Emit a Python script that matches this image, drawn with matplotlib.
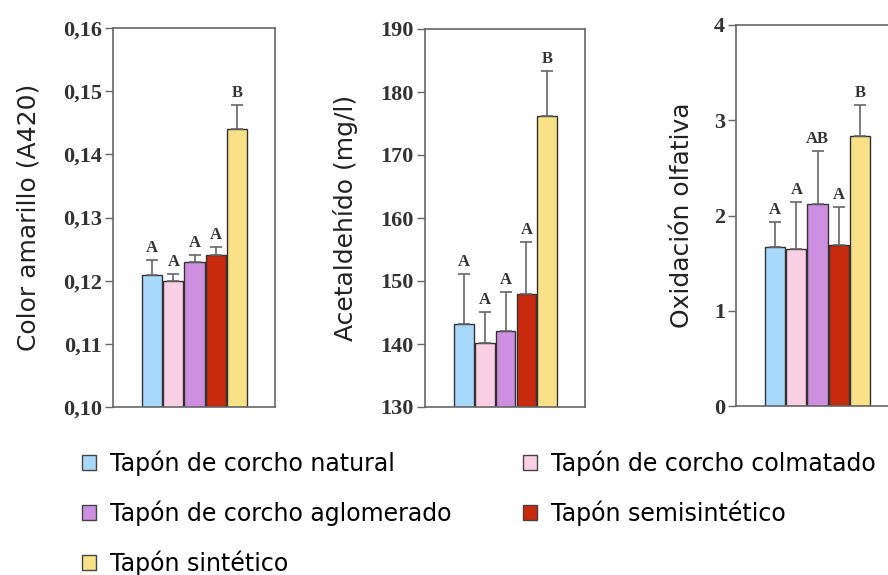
import matplotlib
matplotlib.use("Agg")
import matplotlib.pyplot as plt
from matplotlib.patches import Patch
import numpy as np

tapones = ["Tapón de corcho natural", "Tapón de corcho colmatado",
           "Tapón de corcho aglomerado", "Tapón semisintético", "Tapón sintético"]
colores = ["#a9d8fd", "#fbd0e4", "#cd90e0", "#c72a0c", "#f8e187"]

color_val = [0.1209, 0.1200, 0.1229, 0.1240, 0.1440]
color_err = [0.0024, 0.0011, 0.0012, 0.0014, 0.0038]
color_let = ["A", "A", "A", "A", "B"]

acet_val = [143.2, 140.2, 142.1, 147.9, 176.2]
acet_err = [7.9, 4.9, 6.2, 8.3, 7.1]
acet_let = ["A", "A", "A", "A", "B"]

oxid_val = [1.67, 1.65, 2.12, 1.69, 2.83]
oxid_err = [0.26, 0.49, 0.56, 0.40, 0.33]
oxid_let = ["A", "A", "AB", "A", "B"]

paneles = [
    dict(val=color_val, err=color_err, let=color_let, ylim=(0.10, 0.16),
         ticks=[0.10, 0.11, 0.12, 0.13, 0.14, 0.15, 0.16],
         tlabels=["0,10", "0,11", "0,12", "0,13", "0,14", "0,15", "0,16"],
         ylabel="Color amarillo (A420)", pos=[113, 28, 162, 379], lpad=16),
    dict(val=acet_val, err=acet_err, let=acet_let, ylim=(130, 190),
         ticks=[130, 140, 150, 160, 170, 180, 190],
         tlabels=["130", "140", "150", "160", "170", "180", "190"],
         ylabel="Acetaldehído (mg/l)", pos=[425, 29, 160, 378], lpad=16),
    dict(val=oxid_val, err=oxid_err, let=oxid_let, ylim=(0, 4),
         ticks=[0, 1, 2, 3, 4],
         tlabels=["0", "1", "2", "3", "4"],
         ylabel="Oxidación olfativa", pos=[736, 25, 162, 381], lpad=14),
]

W, H = 888, 575
fig = plt.figure(figsize=(W / 100, H / 100), dpi=100)
x = np.arange(5)
gris = "#666666"

for p in paneles:
    l, t, w, h = p["pos"]
    ax = fig.add_axes([l / W, 1 - (t + h) / H, w / W, h / H])
    ax.bar(x, p["val"], width=0.95, color=colores, edgecolor="#333333", linewidth=1)
    ax.errorbar(x, p["val"], yerr=[np.zeros(5), p["err"]], fmt="none",
                ecolor=gris, elinewidth=1.2, capsize=4, capthick=1.2)
    rng = p["ylim"][1] - p["ylim"][0]
    for xi, v, e, s in zip(x, p["val"], p["err"], p["let"]):
        ax.text(xi, v + e + rng * 0.01, s, ha="center", va="bottom",
                family="Liberation Serif", fontsize=12, fontweight="bold",
                color="#333333")
    ax.set_xlim(-1.85, 5.8)
    ax.set_ylim(*p["ylim"])
    ax.set_yticks(p["ticks"])
    ax.set_yticklabels(p["tlabels"], family="Liberation Serif", fontsize=16,
                       fontweight="bold", color="#333333")
    ax.set_xticks([])
    ax.tick_params(axis="y", direction="out", length=6, width=1, color=gris, pad=2)
    for sp in ax.spines.values():
        sp.set_color(gris)
        sp.set_linewidth(1.2)
    ax.set_ylabel(p["ylabel"], fontsize=18, color="#222222", labelpad=p["lpad"])

handles = [Patch(facecolor=c, edgecolor="#444444", label=n) for c, n in zip(colores, tapones)]
orden = [0, 2, 4, 1, 3]
fig.legend([handles[i] for i in orden], [tapones[i] for i in orden],
           loc="upper left", bbox_to_anchor=(75 / W, 1 - 443 / H), ncol=2,
           frameon=False, fontsize=17, handlelength=0.6, handleheight=0.6,
           handletextpad=0.6, labelspacing=1.05, columnspacing=3.0,
           borderaxespad=0, borderpad=0.3)

fig.savefig("out.png", dpi=100)
